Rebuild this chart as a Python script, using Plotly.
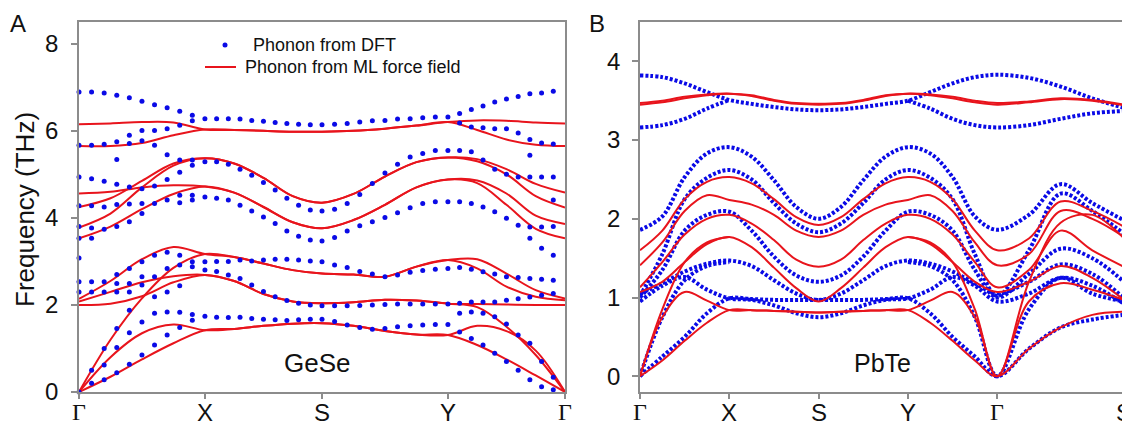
import numpy as np
import plotly.graph_objects as go

N = None
# ---------------- Panel A : GeSe ----------------
A_ticks = [0, 1.0, 1.93, 2.93, 3.86]
A_labels = ["Γ", "X", "S", "Y", "Γ"]

# DFT points (41 q-points: G-X 11, X-S 10, S-Y 10, Y-G 10)
gese_dft_1 = [6.89,6.89,6.87,6.82,6.76,6.68,6.60,6.53,6.45,6.36,6.28,
              6.28,6.28,6.27,6.24,6.22,6.19,6.17,6.15,6.14,6.14,
              6.15,6.17,6.20,6.23,6.24,6.27,6.28,6.30,6.32,6.32,
              6.40,6.49,6.57,6.66,6.73,6.79,6.85,6.87,6.91,N]
gese_dft_2 = [5.67,5.67,5.69,5.75,5.90,6.01,6.01,6.05,6.13,6.23,N,
              N,N,N,N,N,N,N,N,N,N,
              N,N,N,N,N,N,N,N,N,N,
              6.18,6.09,6.07,6.05,6.05,5.95,5.80,5.72,5.70,N]
gese_dft_3 = [N,N,N,5.34,5.71,5.77,5.67,5.45,5.33,5.33,5.29,
              5.29,5.23,5.12,4.98,4.81,4.64,4.45,4.29,4.18,4.16,
              4.20,4.33,4.54,4.79,5.03,5.23,5.40,5.48,5.55,5.55,
              5.55,5.52,5.33,5.12,5.00,4.94,4.94,4.94,4.94,N]
gese_dft_4 = [4.94,4.90,4.84,4.77,4.71,4.67,4.73,4.88,5.05,5.21,N,
              N,N,N,N,N,N,N,N,N,N,
              N,N,N,N,N,N,N,N,N,N,
              N,N,N,N,N,N,5.44,N,N,N]
gese_dft_5 = [4.28,4.28,4.25,4.31,4.32,4.33,4.33,4.41,4.52,4.52,4.48,
              4.45,4.41,4.29,4.16,4.02,3.87,3.70,3.58,3.49,3.47,
              3.55,3.70,3.82,3.91,4.01,4.12,4.23,4.33,4.37,4.37,
              4.37,4.33,4.25,4.14,3.99,3.83,3.53,3.30,3.14,N]
gese_dft_6 = [3.80,3.77,3.74,3.80,3.91,4.10,N,N,4.35,4.41,N,
              N,N,N,N,N,N,N,N,N,N,
              N,N,N,N,N,N,N,N,N,N,
              N,N,N,N,N,N,3.79,3.79,3.80,N]
gese_dft_7 = [3.53,3.53,N,N,N,N,N,N,N,N,N,
              N,N,N,N,N,N,N,N,N,N,
              N,N,N,N,N,N,N,N,N,N,
              N,N,N,N,N,N,N,N,4.41,N]
gese_dft_8 = [3.08,N,N,2.70,2.84,2.99,3.14,3.21,3.14,2.99,2.99,
              3.00,3.00,3.03,3.01,3.03,3.05,3.05,3.03,3.01,2.99,
              2.92,2.86,2.77,2.71,2.65,2.69,2.75,2.79,2.82,2.84,
              2.86,2.82,2.76,2.71,2.65,2.63,2.61,2.59,2.57,N]
gese_dft_9 = [2.53,2.53,2.53,2.49,2.49,2.65,2.65,2.84,2.92,2.88,2.80,
              2.77,2.69,2.61,2.46,2.31,2.19,2.10,2.04,2.00,1.98,
              1.98,1.98,1.99,2.00,2.01,2.02,2.02,2.02,2.02,2.02,
              2.04,2.07,2.07,2.07,2.11,2.14,2.18,2.22,2.26,N]
gese_dft_10 = [2.30,2.30,2.30,2.30,2.30,2.46,2.19,2.30,2.44,N,N,
               N,N,N,N,N,N,N,N,N,N,
               N,N,N,N,N,N,N,N,N,N,
               N,N,N,N,N,N,N,N,N,N]
gese_dft_11 = [0.00,0.20,0.28,0.44,0.64,0.85,1.08,1.31,1.48,1.65,1.74,
               1.72,1.71,1.72,1.69,1.67,1.66,1.64,1.66,1.67,1.67,
               1.62,1.54,1.48,1.44,1.46,1.50,1.52,1.54,1.55,1.55,
               1.38,1.23,1.08,0.89,0.70,0.50,0.28,0.12,0.05,N]
gese_dft_12 = [N,0.50,0.62,1.02,1.36,1.61,1.81,1.84,1.83,1.78,N,
               N,N,N,N,N,N,N,N,N,N,
               N,N,N,N,N,N,N,N,N,N,
               1.81,1.84,1.81,1.73,1.56,1.31,1.12,0.70,0.34,N]
gese_dft_13 = [N,N,1.00,1.46,1.88,N,N,N,N,N,N,
               N,N,N,N,N,N,N,N,N,N,
               N,N,N,N,N,N,N,N,N,N,
               N,N,N,N,N,N,N,N,N,N]
gese_dft = [gese_dft_1, gese_dft_2, gese_dft_3, gese_dft_4, gese_dft_5, gese_dft_6,
            gese_dft_7, gese_dft_8, gese_dft_9, gese_dft_10, gese_dft_11,
            gese_dft_12, gese_dft_13]

# ML force-field curves (17 control points: 5 per segment, shared ends)
gese_ml_1 = [6.15,6.17,6.20,6.19,6.03, 6.02,6.00,5.98,5.98, 6.00,6.05,6.12,6.20, 6.24,6.23,6.19,6.17]
gese_ml_2 = [5.65,5.65,5.72,5.90,6.03, 6.02,6.00,5.98,5.98, 6.00,6.05,6.12,6.20, 6.02,5.80,5.68,5.65]
gese_ml_3 = [4.25,4.45,4.85,5.25,5.37, 5.25,4.92,4.50,4.35, 4.55,4.95,5.28,5.39, 5.35,5.12,4.78,4.58]
gese_ml_4 = [3.78,4.10,4.70,5.20,5.37, 5.25,4.92,4.50,4.35, 4.55,4.95,5.28,5.39, 5.30,5.00,4.50,4.24]
gese_ml_5 = [4.56,4.60,4.70,4.75,4.72, 4.58,4.25,3.90,3.76, 3.95,4.30,4.70,4.88, 4.86,4.56,4.05,3.86]
gese_ml_6 = [3.53,3.80,4.20,4.55,4.72, 4.58,4.25,3.90,3.76, 3.95,4.30,4.70,4.88, 4.80,4.30,3.75,3.53]
gese_ml_7 = [2.14,2.55,3.05,3.33,3.17, 3.10,2.95,2.80,2.72, 2.70,2.65,2.88,3.03, 3.05,2.72,2.34,2.15]
gese_ml_8 = [0.00,1.20,2.15,2.85,3.17, 3.10,2.95,2.80,2.72, 2.70,2.65,2.88,3.03, 2.84,2.42,2.19,2.11]
gese_ml_9 = [2.08,2.30,2.52,2.66,2.69, 2.55,2.25,2.08,2.04, 2.06,2.12,2.10,2.03, 2.02,2.01,2.00,2.00]
gese_ml_10 = [2.00,2.03,2.20,2.52,2.69, 2.55,2.25,2.08,2.04, 2.06,2.12,2.10,2.03, 1.95,1.50,0.85,0.00]
gese_ml_11 = [0.00,0.80,1.35,1.55,1.42, 1.45,1.52,1.57,1.58, 1.52,1.40,1.32,1.31, 1.52,1.40,0.95,0.00]
gese_ml_12 = [0.00,0.35,0.75,1.12,1.42, 1.45,1.52,1.57,1.58, 1.52,1.40,1.32,1.31, 1.08,0.75,0.38,0.00]
gese_ml = [gese_ml_1, gese_ml_2, gese_ml_3, gese_ml_4, gese_ml_5, gese_ml_6, gese_ml_7,
           gese_ml_8, gese_ml_9, gese_ml_10, gese_ml_11, gese_ml_12]

# ---------------- Panel B : PbTe ----------------
B_ticks = [0, 1, 2, 3, 4, 5.42]
B_labels = ["Γ", "X", "S", "Y", "Γ", "S"]
# 21 control points: G-X 5, X-S 4, S-Y 4, Y-G 4, G-S 4
pbte_dft_1 = [3.82,3.80,3.72,3.61,3.51, 3.46,3.42,3.39,3.38, 3.39,3.42,3.46,3.50, 3.61,3.72,3.80,3.83, 3.79,3.68,3.53,3.41]
pbte_dft_2 = [3.16,3.19,3.27,3.40,3.51, N,N,N,N, N,N,N,3.50, 3.40,3.27,3.19,3.16, 3.19,3.27,3.34,3.37]
pbte_dft_3 = [1.86,2.03,2.53,2.83,2.91, 2.79,2.49,2.15,2.00, 2.15,2.49,2.79,2.91, 2.83,2.53,2.03,1.86, 2.05,2.44,2.20,1.98]
pbte_dft_4 = [1.02,1.55,2.25,2.52,2.62, 2.50,2.20,1.94,1.83, 1.94,2.20,2.50,2.62, 2.52,2.25,1.55,1.02, 1.60,2.32,2.10,1.81]
pbte_dft_5 = [1.00,1.35,1.85,2.05,2.09, 1.85,1.52,1.28,1.20, 1.28,1.52,1.85,2.09, 2.05,1.85,1.35,1.00, 1.30,1.62,1.50,1.20]
pbte_dft_6 = [1.05,1.18,1.33,1.43,1.47, 1.40,1.22,1.05,0.97, 1.05,1.22,1.40,1.47, 1.43,1.33,1.18,1.05, 1.20,1.42,1.30,0.99]
pbte_dft_7 = [0.95,1.15,1.26,1.10,0.99, 0.97,0.90,0.80,0.75, 0.80,0.90,0.97,0.99, 1.10,1.26,1.15,0.95, 1.05,1.25,1.15,0.92]
pbte_dft_8 = [0.00,0.75,1.22,1.40,1.45, N,N,N,N, N,N,N,1.45, 1.40,1.22,0.75,0.00, 0.85,1.25,1.05,0.95]
pbte_dft_9 = [0.00,0.25,0.50,0.80,0.99, 0.98,0.97,0.97,0.97, 0.97,0.97,0.98,0.99, 0.80,0.50,0.25,0.00, 0.35,0.62,0.72,0.78]
pbte_dft = [pbte_dft_1, pbte_dft_2, pbte_dft_3, pbte_dft_4, pbte_dft_5,
            pbte_dft_6, pbte_dft_7, pbte_dft_8, pbte_dft_9]

pbte_ml_1 = [3.45,3.48,3.53,3.57,3.59, 3.56,3.50,3.46,3.45, 3.46,3.50,3.56,3.59, 3.57,3.53,3.48,3.45, 3.48,3.52,3.50,3.44]
pbte_ml_2 = [3.47,3.50,3.55,3.58,3.59, 3.57,3.51,3.47,3.46, 3.47,3.51,3.57,3.59, 3.58,3.55,3.50,3.47, 3.49,3.53,3.51,3.45]
pbte_ml_3 = [1.60,1.85,2.25,2.47,2.53, 2.45,2.25,2.02,1.92, 2.02,2.25,2.45,2.53, 2.47,2.25,1.85,1.60, 1.75,2.22,2.10,1.90]
pbte_ml_4 = [1.41,1.70,2.10,2.30,2.24, 2.18,2.05,1.85,1.77, 1.85,2.05,2.18,2.24, 2.30,2.10,1.70,1.41, 1.55,2.10,2.00,1.77]
pbte_ml_5 = [1.13,1.45,1.80,2.00,2.05, 1.94,1.73,1.48,1.39, 1.48,1.73,1.94,2.05, 2.00,1.80,1.45,1.13, 1.35,1.85,1.60,1.39]
pbte_ml_6 = [1.07,1.20,1.45,1.68,1.77, 1.64,1.38,1.12,0.95, 1.12,1.38,1.64,1.77, 1.68,1.45,1.20,1.07, 1.20,1.40,1.25,0.97]
pbte_ml_7 = [0.00,0.75,1.07,0.96,0.84, 0.84,0.83,0.82,0.81, 0.82,0.83,0.84,0.84, 0.96,1.07,0.75,0.00, 0.95,1.18,1.10,0.97]
pbte_ml_8 = [0.00,0.20,0.45,0.68,0.84, 0.84,0.83,0.82,0.81, 0.82,0.83,0.84,0.84, 0.68,0.45,0.20,0.00, 0.35,0.62,0.78,0.82]
pbte_ml_9 = [0.00,0.85,1.45,1.70,1.77, N,N,N,N, N,N,N,1.77, 1.70,1.45,0.85,0.00, 1.20,1.95,2.05,1.75]
pbte_ml = [pbte_ml_1, pbte_ml_2, pbte_ml_3, pbte_ml_4, pbte_ml_5,
           pbte_ml_6, pbte_ml_7, pbte_ml_8, pbte_ml_9]

BLUE = "#0a0ae6"
RED = "#e8141c"
GRAY = "#8c8c8c"
FONT = "Liberation Sans, Arial, sans-serif"


def path_grid(ticks, n):
    xs = [ticks[0]]
    for a, b in zip(ticks[:-1], ticks[1:]):
        xs += list(np.linspace(a, b, n + 1)[1:])
    return xs


fig = go.Figure()
xa_dots = path_grid(A_ticks, 10)
xa_ctrl = path_grid(A_ticks, 4)
xb_ctrl = path_grid(B_ticks, 4)

for band in gese_ml:
    fig.add_trace(go.Scatter(x=xa_ctrl, y=band, mode="lines", xaxis="x", yaxis="y",
                             line=dict(color=RED, width=2, shape="spline", smoothing=1.0),
                             showlegend=False, hoverinfo="skip"))
for band in gese_dft:
    fig.add_trace(go.Scatter(x=xa_dots, y=band, mode="markers", xaxis="x", yaxis="y",
                             marker=dict(color=BLUE, size=5), cliponaxis=False,
                             showlegend=False, hoverinfo="skip"))

for band in pbte_dft:
    fig.add_trace(go.Scatter(x=xb_ctrl, y=band, mode="lines", xaxis="x2", yaxis="y2",
                             line=dict(color=BLUE, width=4, shape="spline", dash="3px,2px"),
                             showlegend=False, hoverinfo="skip"))
for band in pbte_ml:
    fig.add_trace(go.Scatter(x=xb_ctrl, y=band, mode="lines", xaxis="x2", yaxis="y2",
                             line=dict(color=RED, width=2, shape="spline", smoothing=1.0),
                             showlegend=False, hoverinfo="skip"))

# the page body adds an 8 px margin, so screen positions are shifted by OFF
W, H = 1130, 421
OFF = 8
TOP, BOT = 22 - OFF, 392 - OFF


def px(x):
    return (x - OFF) / W


def py(y):
    return (BOT - (y - OFF)) / (BOT - TOP)


common_x = dict(showgrid=False, zeroline=False, showline=True, linecolor=GRAY, linewidth=1.5,
                mirror=True, ticks="outside", ticklen=5, tickwidth=1.5, tickcolor=GRAY,
                showticklabels=False, automargin=False)
common_y = dict(showgrid=False, zeroline=False, showline=True, linecolor=GRAY, linewidth=1.5,
                mirror=True, ticks="outside", ticklen=6, tickwidth=1.5, tickcolor=GRAY,
                tickfont=dict(size=24, color="#111", family=FONT), automargin=False)

fig.update_layout(
    width=W, height=H, margin=dict(l=0, r=0, t=TOP, b=H - BOT, autoexpand=False),
    paper_bgcolor="white", plot_bgcolor="white", showlegend=False,
    xaxis=dict(domain=[px(79), px(565)], range=[A_ticks[0], A_ticks[-1]], tickvals=A_ticks,
               anchor="y", **common_x),
    yaxis=dict(domain=[0, 1], range=[0, 8.5], tickvals=[0, 2, 4, 6, 8], anchor="x",
               ticklabelstandoff=8, **common_y),
    xaxis2=dict(domain=[px(640), px(1124)], range=[B_ticks[0], B_ticks[-1]], tickvals=B_ticks,
                anchor="y2", **common_x),
    yaxis2=dict(domain=[0, 1], range=[-0.2, 4.5], tickvals=[0, 1, 2, 3, 4], anchor="x2",
                ticklabelstandoff=7, **common_y),
)

# high-symmetry point labels placed under the ticks
for xr, ticks, labels in (("x", A_ticks, A_labels), ("x2", B_ticks, B_labels)):
    for t, lab in zip(ticks, labels):
        fam = "Liberation Serif, Times New Roman, serif" if lab == "Γ" else FONT
        fig.add_annotation(x=t, xref=xr, y=py(397), yref="paper", text=lab, showarrow=False,
                           xanchor="center", yanchor="top",
                           font=dict(size=24, family=fam, color="#111"))

ann = [
    dict(text="A", x=px(18), y=py(24), font=dict(size=24)),
    dict(text="B", x=px(597), y=py(24), font=dict(size=24)),
    dict(text="Frequency (THz)", x=px(25), y=py(210), textangle=-90, font=dict(size=26)),
    dict(text="GeSe", x=px(317), y=py(363), font=dict(size=26)),
    dict(text="PbTe", x=px(882), y=py(363), font=dict(size=25)),
    dict(text="Phonon from DFT", x=px(251), y=py(45), xanchor="left", font=dict(size=18)),
    dict(text="Phonon from ML force field", x=px(243), y=py(67), xanchor="left", font=dict(size=18)),
]
for a in ann:
    a.setdefault("xanchor", "center")
    a["font"].update(family=FONT, color="#111")
    fig.add_annotation(xref="paper", yref="paper", showarrow=False, yanchor="middle", **a)

fig.add_shape(type="circle", xref="paper", yref="paper", x0=px(222.5), x1=px(227.5),
              y0=py(47.5), y1=py(42.5), fillcolor=BLUE, line=dict(color=BLUE, width=0))
fig.add_shape(type="line", xref="paper", yref="paper", x0=px(205), x1=px(236),
              y0=py(67), y1=py(67), line=dict(color=RED, width=2))

fig.write_html("out.html")
